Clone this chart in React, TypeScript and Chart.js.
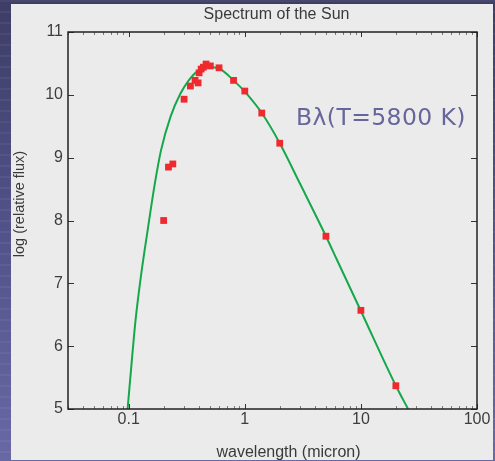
import React, { useEffect, useRef } from "react";
import { Chart, registerables } from "chart.js";

Chart.register(...registerables);

// Blackbody curve B_lambda(T=5800 K): wavelength (micron) / log flux
const curveWavelength = [0.0978, 0.105, 0.114, 0.128, 0.146, 0.168, 0.19, 0.229, 0.279, 0.329, 0.388, 0.49, 0.6, 0.8, 1.0, 1.4, 2.0, 3.0, 5.0, 6.2, 10, 20, 25.5];
const curveLogFlux = [5.0, 5.65, 6.38, 7.14, 7.86, 8.59, 9.12, 9.65, 10.02, 10.23, 10.37, 10.44, 10.42, 10.23, 10.05, 9.71, 9.23, 8.58, 7.75, 7.38, 6.56, 5.37, 5.0];

// Measured solar spectrum points
const sunWavelength = [0.2, 0.22, 0.24, 0.3, 0.34, 0.373, 0.396, 0.404, 0.421, 0.44, 0.464, 0.505, 0.6, 0.8, 1.0, 1.4, 2.0, 5.0, 10, 20];
const sunLogFlux = [8.0, 8.85, 8.9, 9.93, 10.14, 10.23, 10.19, 10.35, 10.41, 10.44, 10.49, 10.46, 10.43, 10.23, 10.06, 9.71, 9.23, 7.75, 6.57, 5.37];

const xTickValues = [0.1, 1, 10, 100];
const xMin = 0.03;
const xMax = 100;
const yMin = 5;
const yMax = 11;

const titleText = "Spectrum of the Sun";
const xTitle = "wavelength (micron)";
const yTitle = "log (relative flux)";
const annotationText = "B\u03bb(T=5800 K)";

const SANS = '"Liberation Sans", Arial, Helvetica, sans-serif';

const framePlugin = {
  id: "frameAndText",
  afterDraw(chart: any) {
    const ctx = chart.ctx;
    const { left, right, top, bottom } = chart.chartArea;
    const xs = chart.scales.x;
    const ys = chart.scales.y;
    ctx.save();
    // inward x ticks (major + minor)
    for (let e = -2; e <= 2; e++) {
      const d = Math.pow(10, e);
      for (let m = 1; m <= 9; m++) {
        const v = m * d;
        if (v < xMin * 0.999 || v > xMax * 1.001) continue;
        const px = Math.round(xs.getPixelForValue(v)) + 0.5;
        const major = m === 1;
        const len = major ? 5 : 3;
        ctx.strokeStyle = major ? "#333" : "#7a7a7a";
        ctx.lineWidth = 1;
        ctx.beginPath();
        ctx.moveTo(px, bottom);
        ctx.lineTo(px, bottom - len);
        ctx.moveTo(px, top);
        ctx.lineTo(px, top + len);
        ctx.stroke();
      }
    }
    // inward y ticks
    for (let v = yMin; v <= yMax; v++) {
      const py = Math.round(ys.getPixelForValue(v)) + 0.5;
      ctx.strokeStyle = "#333";
      ctx.lineWidth = 1;
      ctx.beginPath();
      ctx.moveTo(left, py);
      ctx.lineTo(left + 6, py);
      ctx.moveTo(right, py);
      ctx.lineTo(right - 6, py);
      ctx.stroke();
    }
    // frame
    ctx.strokeStyle = "#222";
    ctx.lineWidth = 1.5;
    ctx.strokeRect(left, top, right - left, bottom - top);

    // texts
    ctx.fillStyle = "#3a3a3a";
    ctx.textAlign = "center";
    ctx.textBaseline = "alphabetic";
    ctx.font = `16px ${SANS}`;
    ctx.fillText(titleText, 276.5, 18.5);
    ctx.fillText(xTitle, 288.5, 456.5);
    ctx.save();
    ctx.translate(23.5, 204);
    ctx.rotate(-Math.PI / 2);
    ctx.font = `14.5px ${SANS}`;
    ctx.fillText(yTitle, 0, 0);
    ctx.restore();

    ctx.fillStyle = "#66669c";
    ctx.textAlign = "left";
    ctx.font = `23.5px "DejaVu Sans", Verdana, sans-serif`;
    try {
      (ctx as any).letterSpacing = "0.4px";
    } catch (e) {}
    ctx.fillText(annotationText, 296, 125);
    ctx.restore();
  },
};

export default function App() {
  const ref = useRef<HTMLCanvasElement | null>(null);

  useEffect(() => {
    if (!ref.current) return;
    const curve = curveWavelength.map((x, i) => ({ x, y: curveLogFlux[i] }));
    const pts = sunWavelength.map((x, i) => ({ x, y: sunLogFlux[i] }));
    const chart = new Chart(ref.current, {
      type: "scatter",
      data: {
        datasets: [
          {
            label: "Sun",
            data: pts,
            showLine: false,
            pointStyle: "rect",
            pointRadius: 4.8,
            pointHoverRadius: 4.8,
            backgroundColor: "#ee2a2e",
            borderWidth: 0,
            order: 0,
          },
          {
            label: "Blackbody",
            data: curve,
            showLine: true,
            borderColor: "#15a84b",
            borderWidth: 2,
            pointRadius: 0,
            pointHoverRadius: 0,
            cubicInterpolationMode: "monotone",
            fill: false,
            order: 1,
          },
        ],
      },
      options: {
        animation: false,
        responsive: false,
        devicePixelRatio: 1,
        events: [],
        layout: { padding: { left: 0, top: 32, right: 18, bottom: 0 } },
        plugins: {
          legend: { display: false },
          tooltip: { enabled: false },
          title: { display: false },
        },
        scales: {
          x: {
            type: "logarithmic",
            min: xMin,
            max: xMax,
            grid: { display: false, drawTicks: false },
            border: { display: false },
            afterBuildTicks: (s: any) => {
              s.ticks = xTickValues.map((v) => ({ value: v, major: true }));
            },
            afterFit: (s: any) => {
              s.height = 52;
            },
            ticks: {
              autoSkip: false,
              maxRotation: 0,
              padding: 1,
              color: "#3d3d3d",
              font: { family: SANS, size: 16 },
              callback: (v: any) => String(v),
            },
          },
          y: {
            type: "linear",
            min: yMin,
            max: yMax,
            grid: { display: false, drawTicks: false },
            border: { display: false },
            afterFit: (s: any) => {
              s.width = 68;
            },
            ticks: {
              stepSize: 1,
              padding: 5,
              color: "#3d3d3d",
              font: { family: SANS, size: 16 },
            },
          },
        },
      },
      plugins: [framePlugin],
    } as any);
    return () => chart.destroy();
  }, []);

  return (
    <div
      style={{
        position: "absolute",
        left: 0,
        top: 0,
        width: 495,
        height: 461,
        overflow: "hidden",
        background:
          "repeating-linear-gradient(180deg, rgba(255,255,255,0.05) 0px, rgba(255,255,255,0.05) 2px, rgba(0,0,0,0) 2px, rgba(0,0,0,0) 11px), linear-gradient(180deg, #3d3d66 0%, #52528a 50%, #6868a5 100%)",
      }}
    >
      <div
        style={{
          position: "absolute",
          left: 11,
          top: 4,
          width: 482,
          height: 456,
          background: "#ebebeb",
        }}
      />
      <canvas
        ref={ref}
        width={495}
        height={461}
        style={{ position: "absolute", left: 0, top: 0, width: 495, height: 461 }}
      />
    </div>
  );
}
